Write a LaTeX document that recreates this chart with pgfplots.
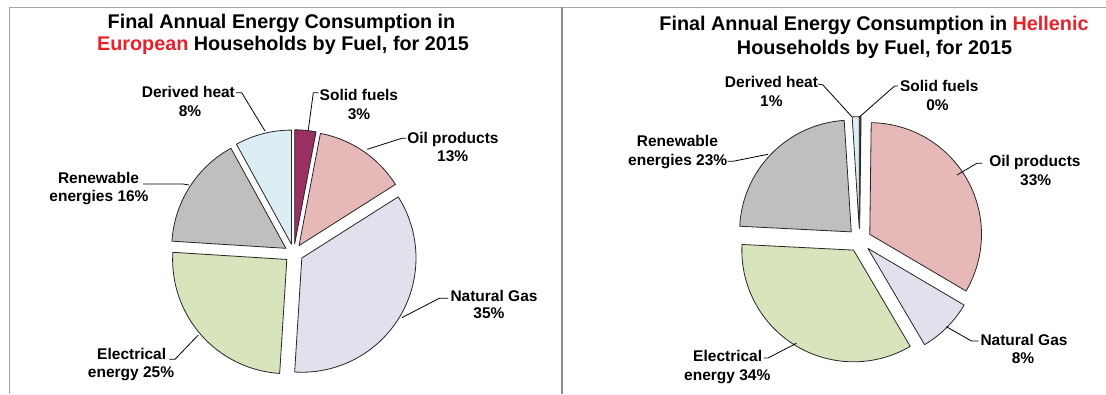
\documentclass[border=0pt]{standalone}
\usepackage{pgfplots}
\pgfplotsset{compat=1.18}
\usepackage{pgfplotstable}
\usepackage{fontspec}
\setmainfont{Liberation Sans}

\definecolor{cSolid}{HTML}{9A2F62}
\definecolor{cOil}{HTML}{E6B9B8}
\definecolor{cGas}{HTML}{E4DFEC}
\definecolor{cElec}{HTML}{D7E4BC}
\definecolor{cRenew}{HTML}{BFBFBF}
\definecolor{cHeat}{HTML}{DBEEF4}
\definecolor{tRed}{HTML}{E8202A}

% European households, share of final energy consumption (%)
\pgfplotstableread{
fuel value
Solid 3
Oil 13
Gas 35
Elec 25
Renew 16
Heat 8
}\eutable

% Hellenic households, share of final energy consumption (%)
\pgfplotstableread{
fuel value
Solid 0.2
Oil 33
Gas 8
Elec 34
Renew 23
Heat 1
}\grtable

\newcommand\lf{\fontsize{15.5}{18}\selectfont\bfseries}
\newcommand\tf{\fontsize{19.8}{23}\selectfont\bfseries}

% pie set-up: #1 table, #2 cx, #3 cy, #4 radius, #5 explode
\newcommand\pieinit[5]{%
  \gdef\pietotal{0}%
  \foreach \i in {0,...,5}{%
    \pgfplotstablegetelem{\i}{value}\of{#1}%
    \pgfmathsetmacro\tmp{\pietotal+\pgfplotsretval}%
    \xdef\pietotal{\tmp}}%
  \gdef\cum{0}%
  \xdef\pcx{#2}\xdef\pcy{#3}\xdef\pr{#4}\xdef\pd{#5}%
}
% one slice: #1 table, #2 row, #3 colour
\newcommand\pieslice[3]{%
  \pgfplotstablegetelem{#2}{value}\of{#1}%
  \pgfmathsetmacro\tA{\cum}%
  \pgfmathsetmacro\tB{\cum+\pgfplotsretval/\pietotal*360}%
  \pgfmathsetmacro\tM{(\tA+\tB)/2}%
  \pgfmathsetmacro\ox{\pcx+\pd*sin(\tM)}%
  \pgfmathsetmacro\oy{\pcy-\pd*cos(\tM)}%
  \xdef\cum{\tB}%
  \edef\temp{\noexpand\addplot[fill=#3, draw=black!85, line width=0.8pt,
     line join=round, domain=\tA:\tB, samples=60, variable=\noexpand\t]
     ({\ox+\pr*sin(\noexpand\t)}, {\oy-\pr*cos(\noexpand\t)})
     -- (axis cs:\ox,\oy) -- cycle;}%
  \temp
}

\begin{document}
\begin{tikzpicture}
\begin{axis}[
  scale only axis, width=1106pt, height=394pt,
  xmin=0, xmax=1106, ymin=0, ymax=394, y dir=reverse,
  axis lines=none, ticks=none, clip=false,
]
% frame
\draw[black!35, line width=0.9pt] (axis cs:9.3,394) -- (axis cs:9.3,7) -- (axis cs:1106,7);
\draw[black!45, line width=1.6pt] (axis cs:561.7,7) -- (axis cs:561.7,394);

% ---------- European pie ----------
\pieinit{\eutable}{293.8}{253.3}{114.2}{9.3}
\pieslice{\eutable}{0}{cSolid}
\pieslice{\eutable}{1}{cOil}
\pieslice{\eutable}{2}{cGas}
\pieslice{\eutable}{3}{cElec}
\pieslice{\eutable}{4}{cRenew}
\pieslice{\eutable}{5}{cHeat}

% ---------- Hellenic pie ----------
\pieinit{\grtable}{859.6}{240.1}{111.7}{11.7}
\pieslice{\grtable}{0}{cSolid}
\pieslice{\grtable}{1}{cOil}
\pieslice{\grtable}{2}{cGas}
\pieslice{\grtable}{3}{cElec}
\pieslice{\grtable}{4}{cRenew}
\pieslice{\grtable}{5}{cHeat}

% titles
\node[anchor=base, font=\tf] at (axis cs:281.5,28.3) {Final Annual Energy Consumption in};
\node[anchor=base, font=\tf] at (axis cs:283,50) {\textcolor{tRed}{European} Households by Fuel, for 2015};
\node[anchor=base, font=\tf] at (axis cs:874,30.7) {Final Annual Energy Consumption in \textcolor{tRed}{Hellenic}};
\node[anchor=base, font=\tf] at (axis cs:874.5,54.3) {Households by Fuel, for 2015};

% labels European
\begin{scope}[every node/.style={anchor=base, font=\lf, inner sep=0pt}]
\node at (axis cs:188.4,97.3) {Derived heat};
\node at (axis cs:190,116) {8\%};
\node at (axis cs:358.9,100) {Solid fuels};
\node at (axis cs:359,119) {3\%};
\node at (axis cs:452.9,143) {Oil products};
\node at (axis cs:452.7,161.7) {13\%};
\node at (axis cs:98.5,183.3) {Renewable};
\node at (axis cs:99,201.5) {energies 16\%};
\node at (axis cs:494,301) {Natural Gas};
\node at (axis cs:489,318.3) {35\%};
\node at (axis cs:131.7,359) {Electrical};
\node at (axis cs:131,377) {energy 25\%};
% labels Hellenic
\node at (axis cs:771.5,87.3) {Derived heat};
\node at (axis cs:771.4,106) {1\%};
\node at (axis cs:939.3,91.7) {Solid fuels};
\node at (axis cs:937.5,110) {0\%};
\node at (axis cs:677.4,146.7) {Renewable};
\node at (axis cs:677.7,165) {energies 23\%};
\node at (axis cs:1034.9,166.7) {Oil products};
\node at (axis cs:1035.7,185) {33\%};
\node at (axis cs:1024,345) {Natural Gas};
\node at (axis cs:1023,363.3) {8\%};
\node at (axis cs:727.7,361.7) {Electrical};
\node at (axis cs:727.3,380) {energy 34\%};
\end{scope}

% leader lines
\begin{scope}[black, line width=0.8pt]
\draw (axis cs:236,92.7) -- (axis cs:241.7,92.7) -- (axis cs:265,131);
\draw (axis cs:318.3,92.7) -- (axis cs:313.3,92.7) -- (axis cs:308.3,130);
\draw (axis cs:406,138.3) -- (axis cs:401.7,138.3) -- (axis cs:367.3,149.3);
\draw (axis cs:143,184) -- (axis cs:183,184) -- (axis cs:189,185);
\draw (axis cs:448,298.3) -- (axis cs:439.3,298.3) -- (axis cs:401.8,317.7);
\draw (axis cs:169.3,359.3) -- (axis cs:175,359.3) -- (axis cs:198.3,335);
\draw (axis cs:818,84) -- (axis cs:823,85) -- (axis cs:851.8,116.7);
\draw (axis cs:898,86) -- (axis cs:894.6,86) -- (axis cs:859,117.3);
\draw (axis cs:727.5,161.3) -- (axis cs:733,161.3) -- (axis cs:768,154.3);
\draw (axis cs:982,163.3) -- (axis cs:976.8,163.3) -- (axis cs:957,175);
\draw (axis cs:978.6,341) -- (axis cs:971.4,341) -- (axis cs:946.4,326.7);
\draw (axis cs:763.6,358) -- (axis cs:767.9,358) -- (axis cs:796.4,343.3);
\end{scope}
\end{axis}
\pgfresetboundingbox
\path (current axis.south west) rectangle (current axis.north east);
\end{tikzpicture}
\end{document}
